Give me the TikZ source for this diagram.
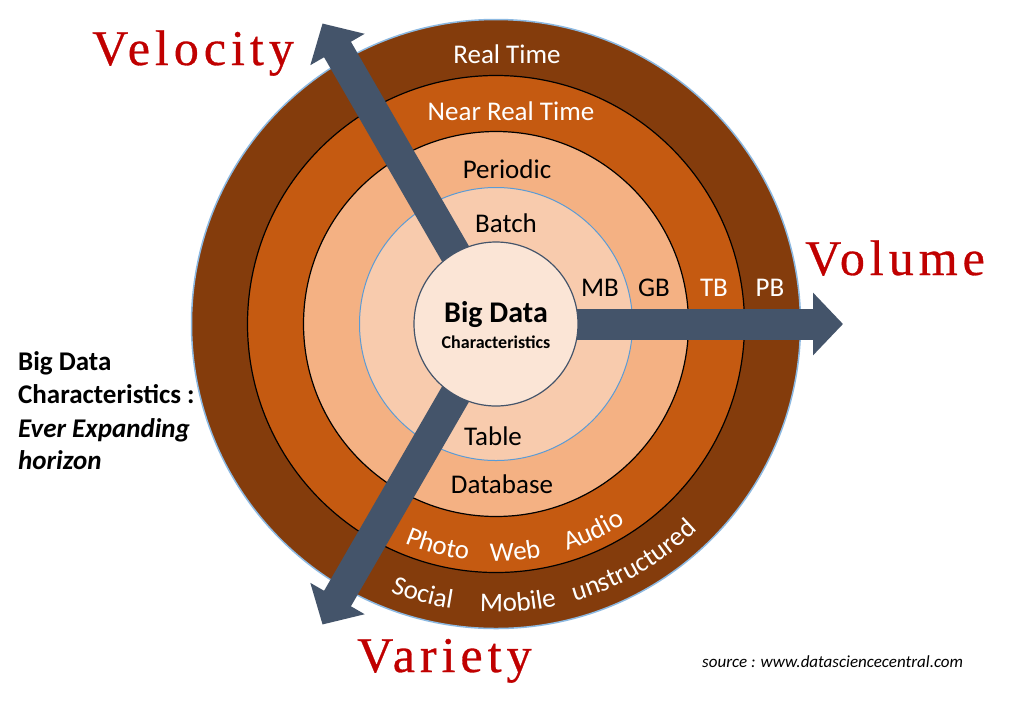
\documentclass[tikz,border=0pt]{standalone}
\usepackage{fontspec}
\setmainfont{Carlito}
\newfontfamily\titlefont[LetterSpace=10,FakeBold=0.6]{Liberation Serif}
\usetikzlibrary{arrows.meta,decorations.text}
\definecolor{ringA}{HTML}{843C0C}
\definecolor{ringB}{HTML}{C55A11}
\definecolor{ringC}{HTML}{F4B183}
\definecolor{ringD}{HTML}{F8CBAD}
\definecolor{ringE}{HTML}{FBE5D6}
\definecolor{slate}{HTML}{44546A}
\definecolor{edgeblue}{HTML}{5B9BD5}
\definecolor{titlered}{HTML}{C00000}
\newcommand\ringfont{\fontsize{27}{32}\selectfont}
\begin{document}
\begin{tikzpicture}[x=1pt,y=1pt,
  ring/.style={circle, inner sep=0pt, outer sep=0pt},
  axis/.style={draw=slate, line width=31pt, -{Triangle[length=30pt,width=61pt]}},
  ringlabel/.style={anchor=base, inner sep=0pt, font=\ringfont},
  title/.style={anchor=base west, inner sep=0pt, font=\titlefont\fontsize{50}{60}\selectfont, text=titlered},
  sidetext/.style={anchor=base west, inner sep=0pt, font=\bfseries\fontsize{27}{33}\selectfont},
  arcword/.style={decorate, decoration={text along path, text align=center, text color=white, text={|\ringfont|#1}}}
]
\fill[white] (0,0) rectangle (1024,-716);
\useasboundingbox (0,0) rectangle (1024,-716);
\coordinate (c) at (496,-324);
% rings
\node[ring, minimum size=609pt, fill=ringA, draw=edgeblue!70, line width=1.5pt] (r1) at (c) {};
\node[ring, minimum size=497pt, fill=ringB, draw=black, line width=1.2pt] (r2) at (c) {};
\node[ring, minimum size=385pt, fill=ringC, draw=black, line width=1.2pt] (r3) at (c) {};
\node[ring, minimum size=273pt, fill=ringD, draw=edgeblue, line width=1pt] (r4) at (c) {};
% axes
\coordinate (veltip) at (322.5,-23.5);
\coordinate (voltip) at (843,-324);
\coordinate (vartip) at (322.5,-624.5);
\draw[axis] (c) -- (veltip);
\draw[axis] (c) -- (voltip);
\draw[axis] (c) -- (vartip);
% core
\node[ring, minimum size=164pt, fill=ringE, draw=slate, line width=1.2pt] (core) at (c) {};
\node[anchor=base, inner sep=0pt, font=\bfseries\fontsize{30}{36}\selectfont] (bd) at (496,-322) {Big Data};
\node[anchor=base, inner sep=0pt, font=\bfseries\fontsize{18}{22}\selectfont] (bdc) at (496,-348) {Characteristics};
% ring labels
\node[ringlabel, text=white] (rt) at (507,-63) {Real Time};
\node[ringlabel, text=white] (nrt) at (511,-120) {Near Real Time};
\node[ringlabel] (per) at (507,-178) {Periodic};
\node[ringlabel] (bat) at (506,-232) {Batch};
\node[ringlabel] (tab) at (493,-445) {Table};
\node[ringlabel] (dbs) at (502,-493) {Database};
\node[ringlabel] (mb) at (600,-296) {MB};
\node[ringlabel] (gb) at (654,-296) {GB};
\node[ringlabel, text=white] (tb) at (714,-296) {TB};
\node[ringlabel, text=white] (pb) at (770,-296) {PB};
% curved words
\path[shift={(c)}, arcword=Photo] (235.3:237.5) arc[start angle=235.3, end angle=275.3, radius=237.5];
\path[shift={(c)}, arcword=Web] (254.8:237.5) arc[start angle=254.8, end angle=294.8, radius=237.5];
\path[shift={(c)}, arcword=Audio] (275.2:237.5) arc[start angle=275.2, end angle=315.2, radius=237.5];
\path[shift={(c)}, arcword=Social] (229.8:288) arc[start angle=229.8, end angle=279.8, radius=288];
\path[shift={(c)}, arcword=Mobile] (249.5:288) arc[start angle=249.5, end angle=299.5, radius=288];
\path[shift={(c)}, arcword=unstructured] (270.1:288) arc[start angle=270.1, end angle=330.1, radius=288];
% titles
\node[title] (vel) at (92,-65) {Velocity};
\node[title] (vol) at (805,-275) {Volume};
\node[title] (var) at (357,-672) {Variety};
% side text
\node[sidetext] (l1) at (18,-370) {Big Data};
\node[sidetext] (l2) at (18,-403) {Characteristics :};
\node[sidetext, font=\bfseries\itshape\fontsize{27}{33}\selectfont] (l3) at (18,-437) {Ever Expanding};
\node[sidetext, font=\bfseries\itshape\fontsize{27}{33}\selectfont] (l4) at (18,-469) {horizon};
% source
\node[anchor=base west, inner sep=0pt, font=\itshape\fontsize{17}{20}\selectfont] (src) at (702,-667) {source : www.datasciencecentral.com};
\end{tikzpicture}
\end{document}
